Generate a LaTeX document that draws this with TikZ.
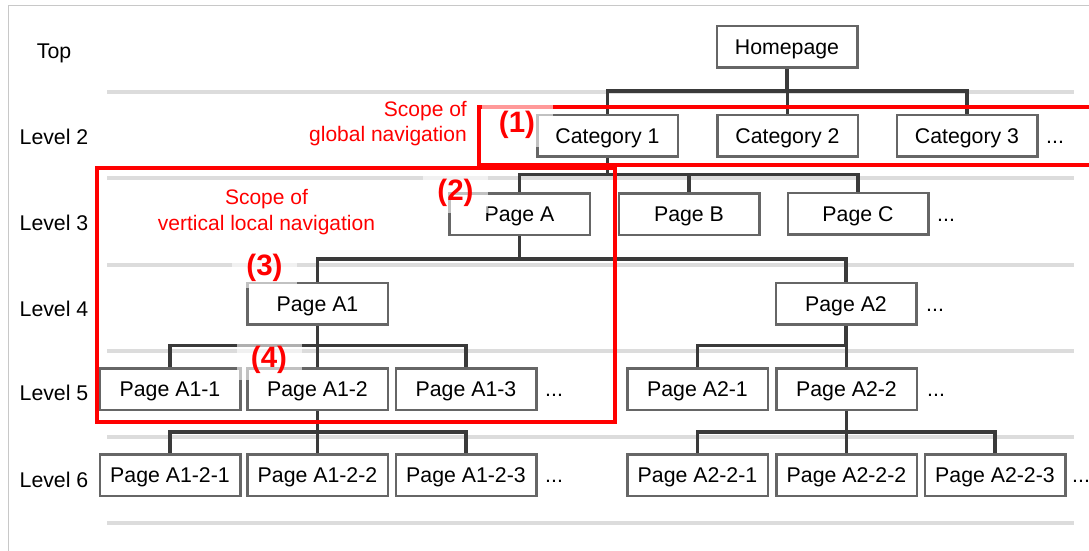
\documentclass[tikz,border=0pt]{standalone}
\usepackage{fontspec}
\setmainfont{Liberation Sans}
\usetikzlibrary{backgrounds}
\definecolor{boxgray}{HTML}{666666}
\definecolor{conn}{HTML}{3A3A3A}
\definecolor{lvl}{HTML}{DCDCDC}
\definecolor{framegray}{HTML}{C8C8C8}
\definecolor{navred}{HTML}{FF0000}
\begin{document}
\begin{tikzpicture}[x=1pt,y=-1pt,
 txt/.style={font=\fontsize{21.3pt}{25.5pt}\selectfont, inner sep=0pt, text height=15.2pt, text depth=0pt},
 page/.style={txt, draw=boxgray, line width=2.5pt, fill=white, minimum width=140.5pt, minimum height=41.5pt},
 link/.style={draw=conn, line width=3.5pt},
 lvlline/.style={draw=lvl, line width=3.5pt},
 navbox/.style={draw=navred, line width=3.2pt},
 tag/.style={font=\fontsize{29.5pt}{31pt}\selectfont\bfseries, text=navred, fill=white, fill opacity=0.6, text opacity=1, inner sep=0pt, text height=21.5pt, text depth=6.2pt, minimum width=65pt, minimum height=40pt},
 note/.style={font=\fontsize{21pt}{25.5pt}\selectfont, text=navred, inner sep=0pt},
 more/.style={txt, anchor=west}
]
\useasboundingbox (0,0) rectangle (1089,551);

% level labels
\node[txt] (lt) at (54,51) {Top};
\node[txt] (l2) at (54,137) {Level 2};
\node[txt] (l3) at (54,223) {Level 3};
\node[txt] (l4) at (54,309) {Level 4};
\node[txt] (l5) at (54,393) {Level 5};
\node[txt] (l6) at (54,480) {Level 6};

% pages
\node[page] (hp) at (787,47) {Homepage};
\node[page] (c1) at (607.5,135.5) {Category 1};
\node[page] (c2) at (787.5,135.5) {Category 2};
\node[page] (c3) at (967,135.5) {Category 3};
\node[more] (m2) at (1046,135.5) {...};

\node[page] (pa) at (519.5,214) {Page A};
\node[page] (pb) at (689,214) {Page B};
\node[page] (pc) at (858,213.5) {Page C};
\node[more] (m3) at (937,213.5) {...};

\node[page] (a1) at (317.5,303.5) {Page A1};
\node[page] (a2) at (846,303.5) {Page A2};
\node[more] (m4) at (926,303.5) {...};

\node[page] (a11) at (170,389) {Page A1-1};
\node[page] (a12) at (317.5,389) {Page A1-2};
\node[page] (a13) at (466,389) {Page A1-3};
\node[more] (m5a) at (545,389) {...};
\node[page] (a21) at (697.5,389) {Page A2-1};
\node[page] (a22) at (846.5,389) {Page A2-2};
\node[more] (m5b) at (927,389) {...};

\node[page] (a121) at (170,475) {Page A1-2-1};
\node[page] (a122) at (317.5,475) {Page A1-2-2};
\node[page] (a123) at (466,475) {Page A1-2-3};
\node[more] (m6a) at (545,475) {...};
\node[page] (a221) at (697.5,475) {Page A2-2-1};
\node[page] (a222) at (846.5,475) {Page A2-2-2};
\node[page] (a223) at (995,475) {Page A2-2-3};
\node[more] (m6b) at (1072,475) {...};

\begin{scope}[on background layer]
 % frame
 \draw[framegray, line width=1pt] (8,600) -- (8,6) -- (1120,6);
 % level lines
 \foreach \yy in {92,178,265,351,437,523}
   \draw[lvlline] (107,\yy) -- (1074,\yy);
 % connectors
 \foreach \c in {c1,c2,c3} \draw[link] (hp.south) -- ++(0,22) -| (\c.north);
 \foreach \c in {pa,pb,pc} \draw[link] (c1.south) -- ++(0,17) -| (\c.north);
 \foreach \c in {a1,a2} \draw[link] (pa.south) -- ++(0,23) -| (\c.north);
 \foreach \c in {a11,a12,a13} \draw[link] (a1.south) -- ++(0,20) -| (\c.north);
 \foreach \c in {a21,a22} \draw[link] (a2.south) -- ++(0,20) -| (\c.north);
 \foreach \c in {a121,a122,a123} \draw[link] (a12.south) -- ++(0,21) -| (\c.north);
 \foreach \c in {a221,a222,a223} \draw[link] (a22.south) -- ++(0,21) -| (\c.north);
\end{scope}

% scope boxes
\draw[navbox] (479,107) rectangle (1120,165);
\draw[navbox] (97,168) rectangle (615,422);

% scope texts
\node[note, align=right, anchor=east] (gn) at (467,123.5) {Scope of\\global navigation};
\node[note, align=center] (vn) at (266.5,212) {Scope of\\vertical local navigation};

% numbered tags
\node[tag, minimum width=71pt, minimum height=44pt] (t1) at (517,125) {(1)};
\node[tag] (t2) at (455.5,193) {(2)};
\node[tag] (t3) at (264.5,268) {(3)};
\node[tag] (t4) at (269,360) {(4)};
\end{tikzpicture}
\end{document}
